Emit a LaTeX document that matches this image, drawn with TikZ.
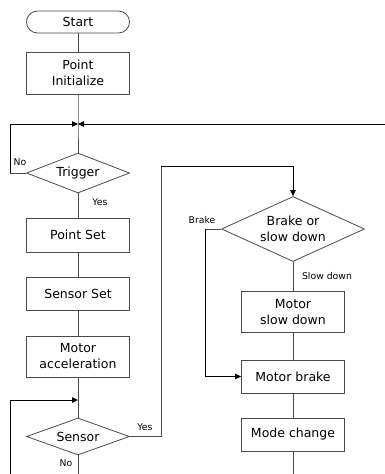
\documentclass[tikz,border=0pt]{standalone}
\usepackage{fontspec}
\setmainfont{DejaVu Sans}
\usetikzlibrary{shapes.geometric,arrows.meta}
\definecolor{ln}{HTML}{4A4A4A}
\tikzset{
  x=1pt, y=-1pt,
  box/.style={draw=ln, line width=0.8pt, minimum width=103pt, inner sep=0pt, align=center, font=\fontsize{12.5}{16}\selectfont},
  term/.style={box, rounded corners=11pt, minimum height=22pt},
  dec/.style={draw=ln, line width=0.8pt, diamond, inner sep=0pt, align=center, font=\fontsize{12.5}{16}\selectfont},
  flow/.style={draw=ln, line width=0.8pt},
  arr/.style={draw=black, line width=0.8pt, -{Triangle[length=6pt,width=5.5pt]}},
  lbl/.style={font=\fontsize{9.3}{11}\selectfont, inner sep=0pt}
}
\begin{document}
\begin{tikzpicture}
\useasboundingbox (0,0) rectangle (385,474);
% left column
\node[term] (start) at (78,22) {Start};
\node[box, minimum height=42pt] (init) at (78,73) {Point\\Initialize};
\coordinate (J) at (78,124);
\node[dec, minimum width=103pt, minimum height=40pt, shape aspect=2.6] (trig) at (78,173) {Trigger};
\node[box, minimum height=34pt] (pset) at (78,235) {Point Set};
\node[box, minimum height=33pt] (sset) at (78,293.5) {Sensor Set};
\node[box, minimum height=41pt] (macc) at (78,356.5) {Motor\\acceleration};
\coordinate (K) at (78,400);
\node[dec, minimum width=103pt, minimum height=37pt, shape aspect=2.8] (sens) at (78,436.5) {Sensor};
% right column
\node[dec, minimum width=143pt, minimum height=65pt, shape aspect=2.2] (bsd) at (293,229) {Brake or\\slow down};
\node[box, minimum height=41pt] (mslow) at (293,312) {Motor\\slow down};
\node[box, minimum height=33pt] (mbrk) at (293,376.5) {Motor brake};
\node[box, minimum height=33pt] (mode) at (293,434.5) {Mode change};
% free ends
\coordinate (RE) at (385,124);
\coordinate (LB) at (10,474);
\coordinate (SB) at (78,474);
\coordinate (MB) at (293,474);
\coordinate (TL) at (10,173);
\coordinate (SR) at (161,166.7);
\coordinate (BL) at (205.7,229);
% connectors
\draw[flow] (start) -- (init);
\draw[flow] (init) -- (J) -- (trig);
\draw[flow] (trig) -- (pset);
\draw[flow] (pset) -- (sset);
\draw[flow] (sset) -- (macc);
\draw[flow] (macc) -- (sens);
\draw[flow] (sens) -- (SB);
\draw[flow] (trig.west) -- (TL);
\draw[arr] (TL) |- (J);
\draw[arr] (RE) -- (J);
\draw[arr] (LB) |- (K);
\draw[flow] (sens.east) -| (SR);
\draw[arr] (SR) -| (bsd.north);
\draw[flow] (bsd.west) -- (BL);
\draw[arr] (BL) |- (mbrk.west);
\draw[flow] (bsd) -- (mslow);
\draw[flow] (mslow) -- (mbrk);
\draw[flow] (mbrk) -- (mode);
\draw[flow] (mode) -- (MB);
% labels
\node[lbl] (lno1) at (20,162) {No};
\node[lbl] (lyes1) at (100,202) {Yes};
\node[lbl] (lyes2) at (145,427) {Yes};
\node[lbl] (lno2) at (66,463) {No};
\node[lbl] (lbrake) at (202,220) {Brake};
\node[lbl] (lslow) at (327,276) {Slow down};
\end{tikzpicture}
\end{document}
